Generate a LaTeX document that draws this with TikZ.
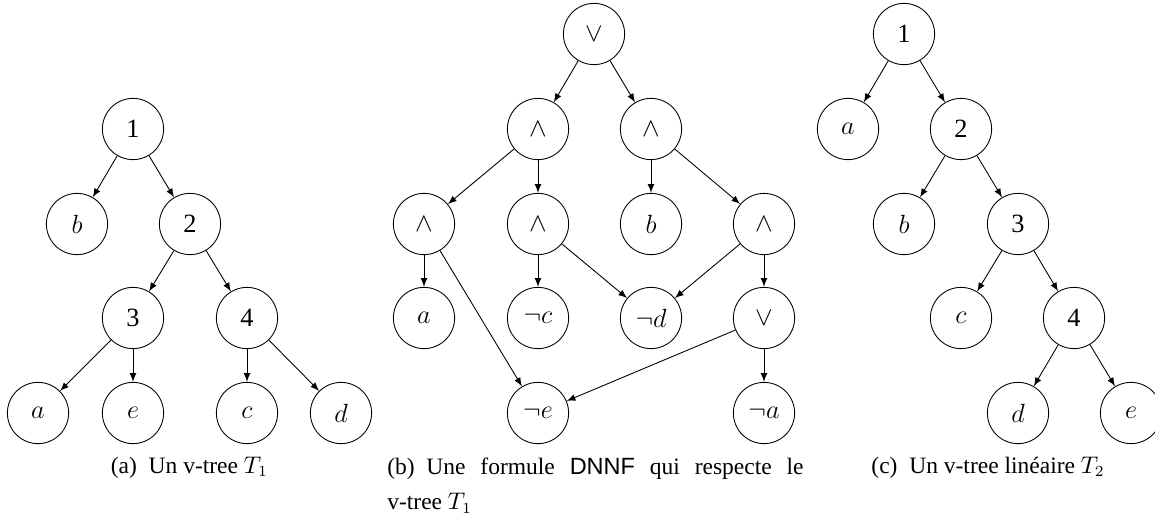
\documentclass[tikz,border=0pt]{standalone}
\usepackage[no-math]{fontspec}
\setmainfont{Liberation Serif}
\setsansfont{Liberation Sans}
\usetikzlibrary{arrows}

\begin{document}
\begin{tikzpicture}[>=latex,
  vertex/.style={circle,draw,minimum size=0.98cm,inner sep=0pt,font=\large},
  legende/.style={font=\fontsize{10.7}{16}\selectfont,inner sep=0pt}]
\useasboundingbox (0,0) rectangle (18.48,8.288);
\node[vertex] (t1) at (2.128,6.224) {1};
\node[vertex] (tb) at (1.232,4.704) {$b$};
\node[vertex] (t2) at (3.04,4.704) {2};
\node[vertex] (t3) at (2.128,3.2) {3};
\node[vertex] (t4) at (3.952,3.2) {4};
\node[vertex] (ta) at (0.608,1.68) {$a$};
\node[vertex] (te) at (2.128,1.68) {$e$};
\node[vertex] (tc) at (3.952,1.68) {$c$};
\node[vertex] (td) at (5.456,1.68) {$d$};
\draw[->] (t1) -- (tb);
\draw[->] (t1) -- (t2);
\draw[->] (t2) -- (t3);
\draw[->] (t2) -- (t4);
\draw[->] (t3) -- (ta);
\draw[->] (t3) -- (te);
\draw[->] (t4) -- (tc);
\draw[->] (t4) -- (td);
\node[vertex] (ou1) at (9.504,7.744) {$\vee$};
\node[vertex] (et1) at (8.608,6.224) {$\wedge$};
\node[vertex] (et2) at (10.416,6.224) {$\wedge$};
\node[vertex] (et3) at (6.784,4.704) {$\wedge$};
\node[vertex] (et4) at (8.608,4.704) {$\wedge$};
\node[vertex] (fb) at (10.416,4.704) {$b$};
\node[vertex] (et5) at (12.224,4.704) {$\wedge$};
\node[vertex] (fa) at (6.784,3.2) {$a$};
\node[vertex] (fnc) at (8.608,3.2) {$\neg c$};
\node[vertex] (fnd) at (10.416,3.2) {$\neg d$};
\node[vertex] (ou2) at (12.224,3.2) {$\vee$};
\node[vertex] (fne) at (8.608,1.68) {$\neg e$};
\node[vertex] (fna) at (12.224,1.68) {$\neg a$};
\draw[->] (ou1) -- (et1);
\draw[->] (ou1) -- (et2);
\draw[->] (et1) -- (et3);
\draw[->] (et1) -- (et4);
\draw[->] (et2) -- (fb);
\draw[->] (et2) -- (et5);
\draw[->] (et3) -- (fa);
\draw[->] (et3) -- (fne);
\draw[->] (et4) -- (fnc);
\draw[->] (et4) -- (fnd);
\draw[->] (et5) -- (fnd);
\draw[->] (et5) -- (ou2);
\draw[->] (ou2) -- (fne);
\draw[->] (ou2) -- (fna);
\node[vertex] (l1) at (14.464,7.744) {1};
\node[vertex] (la) at (13.568,6.224) {$a$};
\node[vertex] (l2) at (15.376,6.224) {2};
\node[vertex] (lb) at (14.464,4.704) {$b$};
\node[vertex] (l3) at (16.288,4.704) {3};
\node[vertex] (lc) at (15.376,3.2) {$c$};
\node[vertex] (l4) at (17.184,3.2) {4};
\node[vertex] (ld) at (16.288,1.68) {$d$};
\node[vertex] (le) at (18.096,1.68) {$e$};
\draw[->] (l1) -- (la);
\draw[->] (l1) -- (l2);
\draw[->] (l2) -- (lb);
\draw[->] (l2) -- (l3);
\draw[->] (l3) -- (lc);
\draw[->] (l3) -- (l4);
\draw[->] (l4) -- (ld);
\draw[->] (l4) -- (le);
\node[legende,anchor=base] (capa) at (3.03,0.72) {(a)\enspace Un v-tree $T_1$};
\node[legende,anchor=north west,text width=6.66cm,align=justify] (capb) at (6.19,0.97)
  {(b)\enspace Une formule \textsf{DNNF} qui respecte le\linebreak v-tree $T_1$};
\node[legende,anchor=base] (capc) at (15.81,0.72) {(c)\enspace Un v-tree linéaire $T_2$};
\end{tikzpicture}
\end{document}
